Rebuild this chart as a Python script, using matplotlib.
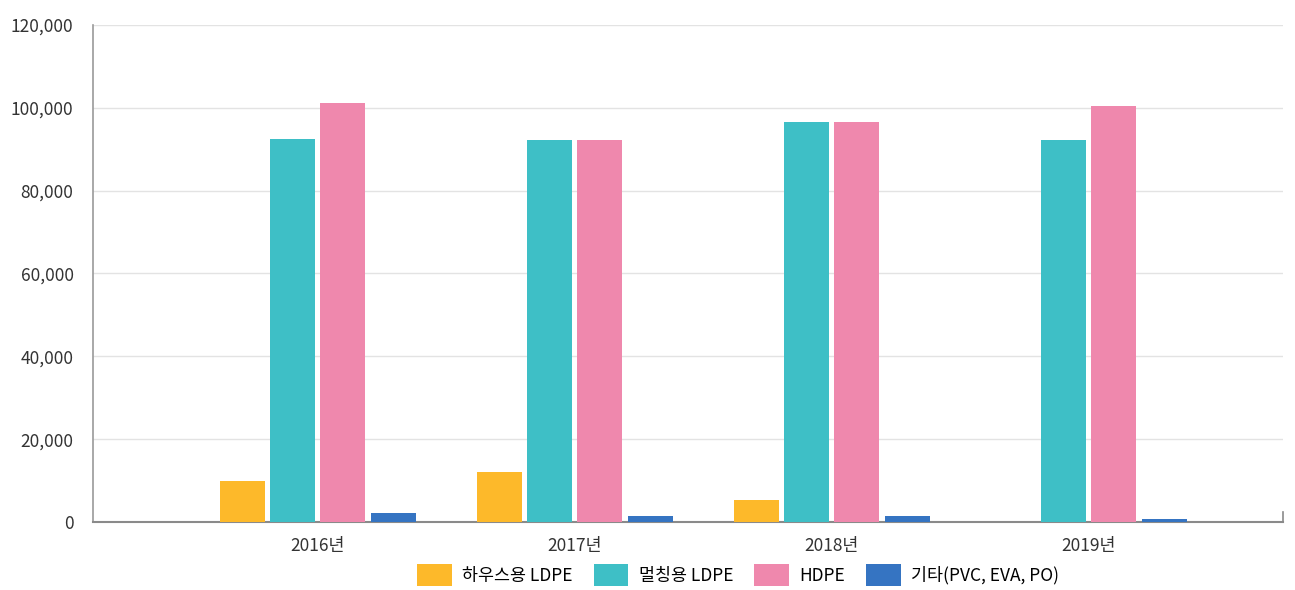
import numpy as np
import matplotlib.pyplot as plt
from matplotlib.ticker import FuncFormatter

plt.rcParams['font.family'] = ['Noto Sans CJK KR', 'DejaVu Sans']

# data
years = ['2016년', '2017년', '2018년', '2019년']
series_names = ['하우스용 LDPE', '멀칭용 LDPE', 'HDPE', '기타(PVC, EVA, PO)']
house_ldpe = [10000, 12100, 5300, 0]
mulch_ldpe = [92500, 92300, 96600, 92300]
hdpe = [101200, 92300, 96600, 100500]
other = [2200, 1500, 1500, 700]
colors = ['#FDB92A', '#3EBFC6', '#EF88AD', '#3574C2']

values = [house_ldpe, mulch_ldpe, hdpe, other]

fig = plt.figure(figsize=(12.95, 5.9), dpi=100)
ax = fig.add_axes([0.0718, 0.1153, 0.9189, 0.8423])

x = np.arange(len(years))
slot = 0.195
bw = 0.175
for i, (vals, name, c) in enumerate(zip(values, series_names, colors)):
    ax.bar(x + (i - 1.5) * slot, vals, width=bw, color=c, label=name, zorder=3)

ax.set_xlim(-0.875, 3.755)
ax.set_ylim(0, 120000)
ax.set_yticks(np.arange(0, 120001, 20000))
ax.yaxis.set_major_formatter(FuncFormatter(lambda v, p: f'{int(v):,}'))
ax.set_xticks(x)
ax.set_xticklabels(years)
ax.tick_params(axis='both', length=0, labelsize=12.5, colors='#333333')
ax.tick_params(axis='y', pad=14)
ax.tick_params(axis='x', pad=11)

ax.grid(axis='y', color='#e3e3e3', linewidth=1, zorder=0)
for s in ['top', 'right']:
    ax.spines[s].set_visible(False)
ax.spines['left'].set_color('#9a9a9a')
ax.spines['bottom'].set_color('#8a8a8a')
ax.spines['left'].set_linewidth(1.2)
ax.spines['bottom'].set_linewidth(1.5)
# small end tick at right of x axis
ax.plot([3.755, 3.755], [0, 2500], color='#8a8a8a', lw=1.2, clip_on=False)

fig.legend(loc='lower center', bbox_to_anchor=(0.57, -0.02), ncol=4, frameon=False,
           fontsize=12.5, handlelength=2.0, handleheight=1.6, columnspacing=1.2,
           handletextpad=0.6)

fig.savefig('out.png', dpi=100, facecolor='white')
